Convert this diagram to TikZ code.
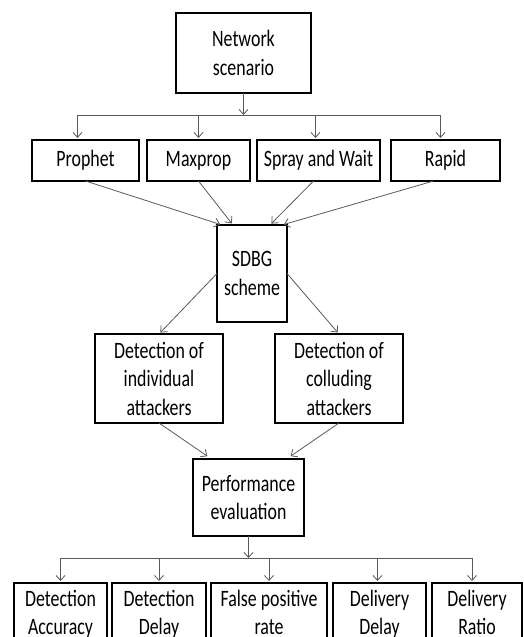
\documentclass[tikz,border=0pt]{standalone}
\usepackage{fontspec}
\setmainfont{Carlito}[FakeStretch=0.76]
\usetikzlibrary{arrows.meta}
\definecolor{conngray}{HTML}{5A5A5A}
\begin{document}
\begin{tikzpicture}[x=1pt,y=-1pt,
  box/.style={draw=black, line width=2pt, align=center, font=\fontsize{23.5}{28.5}\selectfont, inner sep=0pt, outer sep=0pt},
  botbox/.style={box, anchor=north, inner ysep=7.5pt, font=\fontsize{23.5}{28}\selectfont},
  conn/.style={draw=conngray, line width=0.8pt, -{Straight Barb[length=5pt,width=9pt]}, shorten >=2pt},
  busline/.style={draw=conngray, line width=0.8pt}]
\clip (0,0) rectangle (524,637);
\fill[white] (0,0) rectangle (524,637);
% nodes
\node[box, minimum width=135, minimum height=80] (net) at (243.5,53) {Network\\scenario};
\node[box, minimum width=107, minimum height=41] (prophet) at (85.5,160.5) {Prophet};
\node[box, minimum width=103, minimum height=41] (maxprop) at (198.5,160.5) {Maxprop};
\node[box, minimum width=123, minimum height=41] (spray) at (318.5,160.5) {Spray and Wait};
\node[box, minimum width=109, minimum height=41] (rapid) at (445.5,160.5) {Rapid};
\node[box, minimum width=70, minimum height=97] (sdbg) at (252,273.5) {SDBG\\scheme};
\node[box, minimum width=128, minimum height=89] (indiv) at (159,378.5) {Detection of\\individual\\attackers};
\node[box, minimum width=128, minimum height=89] (coll) at (339,378.5) {Detection of\\colluding\\attackers};
\node[box, minimum width=111, minimum height=77] (perf) at (248.5,497.5) {Performance\\evaluation};
\node[botbox, minimum width=93] (acc) at (60.5,583) {Detection\\Accuracy};
\node[botbox, minimum width=94] (dd) at (159,583) {Detection\\Delay};
\node[botbox, minimum width=116] (fp) at (269,583) {False positive\\rate};
\node[botbox, minimum width=93] (dl) at (379.5,583) {Delivery\\Delay};
\node[botbox, minimum width=90] (dr) at (477,583) {Delivery\\Ratio};
% bus 1
\coordinate (bus1) at (243.5,115);
\draw[conn, shorten >=0pt] (net.south) -- (net.south |- bus1);
\draw[busline] ([xshift=-8pt]prophet.north |- bus1) -- ([xshift=-5pt]rapid.north |- bus1);
\draw[conn] ([xshift=-8pt]prophet.north |- bus1) -- ([xshift=-8pt]prophet.north);
\draw[conn] (maxprop.north |- bus1) -- (maxprop.north);
\draw[conn] ([xshift=-3pt]spray.north |- bus1) -- ([xshift=-3pt]spray.north);
\draw[conn] ([xshift=-5pt]rapid.north |- bus1) -- ([xshift=-5pt]rapid.north);
% to SDBG
\draw[conn] (prophet.south) -- ([xshift=-30pt]sdbg.north);
\draw[conn] (maxprop.south) -- ([xshift=-19pt]sdbg.north);
\draw[conn] ([xshift=-5pt]spray.south) -- ([xshift=18pt]sdbg.north);
\draw[conn] ([xshift=-12pt]rapid.south) -- ([xshift=30pt]sdbg.north);
% SDBG to detections
\draw[conn] (sdbg.west) -- (indiv.north);
\draw[conn] (sdbg.east) -- (coll.north);
% detections to performance
\draw[conn, shorten >=5pt] (indiv.south) -- ([xshift=-37pt]perf.north);
\draw[conn, shorten >=5pt] (coll.south) -- ([xshift=38pt]perf.north);
% bus 2
\coordinate (bus2) at (248.5,558);
\draw[conn, shorten >=0pt] (perf.south) -- (perf.south |- bus2);
\draw[busline] (acc.north |- bus2) -- ([xshift=-5pt]dr.north |- bus2);
\draw[conn] (acc.north |- bus2) -- (acc.north);
\draw[conn] (dd.north |- bus2) -- (dd.north);
\draw[conn] (fp.north |- bus2) -- (fp.north);
\draw[conn] ([xshift=-2pt]dl.north |- bus2) -- ([xshift=-2pt]dl.north);
\draw[conn] ([xshift=-5pt]dr.north |- bus2) -- ([xshift=-5pt]dr.north);
\end{tikzpicture}
\end{document}
